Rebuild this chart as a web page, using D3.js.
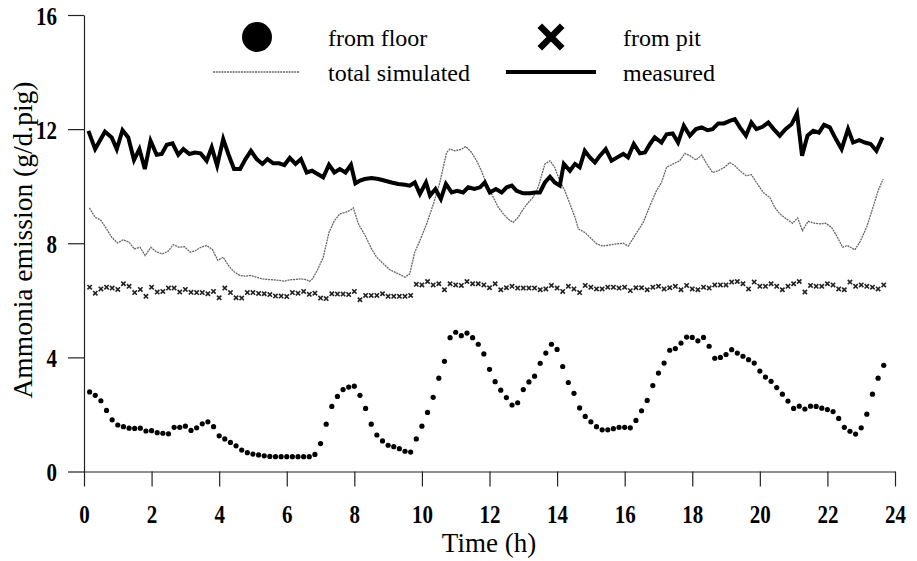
<!DOCTYPE html>
<head>
  <meta charset="utf-8">
  <title>ammonia emission</title>
  <style>
    body { margin: 0; background: #fff; }
    text { font-family: "Liberation Serif", "Times New Roman", serif; fill: #000; }
  </style>
</head>

<script src="https://d3js.org/d3.v7.min.js"></script>

<div id="my_dataviz"></div>

<script>

  // sampling step of the floor / pit series (10 minutes)
  const STEP = 1 / 6;

  // NH3 from floor (g/d.pig), one value every 10 min starting at 0:10
  const floorValues = [2.79,2.67,2.48,2.14,1.81,1.63,1.57,1.52,1.51,1.52,1.42,1.43,1.36,1.34,1.32,1.55,1.55,1.59,1.44,1.53,
    1.67,1.74,1.57,1.25,1.14,1.02,0.90,0.75,0.66,0.61,0.58,0.55,0.53,0.52,0.52,0.52,0.52,0.52,0.52,0.52,
    0.60,0.98,1.66,2.28,2.63,2.87,2.96,2.99,2.67,2.21,1.66,1.28,1.07,0.92,0.87,0.80,0.71,0.68,1.14,1.59,
    2.07,2.60,3.27,3.86,4.69,4.88,4.76,4.85,4.69,4.46,4.12,3.58,3.15,2.85,2.59,2.33,2.41,2.87,3.14,3.34,
    3.79,4.15,4.46,4.28,3.68,3.12,2.74,2.23,1.93,1.74,1.57,1.46,1.46,1.50,1.55,1.55,1.53,1.79,2.13,2.49,
    3.01,3.45,3.80,4.25,4.31,4.50,4.71,4.70,4.58,4.70,4.39,3.97,4.00,4.10,4.27,4.15,4.04,3.92,3.80,3.52,
    3.31,3.16,2.94,2.71,2.47,2.21,2.29,2.19,2.29,2.28,2.22,2.17,2.10,1.86,1.55,1.41,1.31,1.53,2.01,2.71,
    3.27,3.72];

  // NH3 from pit (g/d.pig), same time steps
  const pitValues = [6.46,6.25,6.40,6.46,6.43,6.38,6.58,6.49,6.27,6.38,6.14,6.46,6.29,6.31,6.43,6.43,6.29,6.38,6.28,6.27,
    6.27,6.23,6.31,6.09,6.43,6.27,6.09,6.08,6.27,6.27,6.24,6.23,6.20,6.15,6.15,6.13,6.27,6.25,6.31,6.21,
    6.25,6.08,6.06,6.23,6.22,6.22,6.20,6.31,6.02,6.17,6.17,6.17,6.23,6.14,6.14,6.14,6.14,6.17,6.56,6.54,
    6.66,6.54,6.58,6.37,6.58,6.54,6.52,6.66,6.58,6.58,6.54,6.44,6.58,6.37,6.44,6.49,6.43,6.43,6.43,6.43,
    6.37,6.40,6.52,6.43,6.31,6.49,6.40,6.27,6.52,6.46,6.40,6.40,6.46,6.46,6.43,6.46,6.34,6.44,6.44,6.37,
    6.46,6.49,6.40,6.44,6.49,6.37,6.52,6.40,6.37,6.46,6.43,6.54,6.54,6.54,6.64,6.66,6.58,6.40,6.64,6.49,
    6.49,6.58,6.49,6.37,6.49,6.58,6.66,6.29,6.52,6.49,6.49,6.58,6.54,6.40,6.37,6.64,6.49,6.54,6.49,6.46,
    6.40,6.54];

  // total simulated (hours / values)
  const simHours = [0.16,0.33,0.49,0.67,0.82,0.99,1.16,1.33,1.49,1.66,1.81,1.98,2.15,2.32,2.48,2.64,2.81,2.97,3.14,3.30,
    3.46,3.63,3.80,3.96,4.12,4.29,4.45,4.62,4.78,4.94,5.11,5.27,5.43,5.60,5.77,5.93,6.09,6.26,6.42,6.59,
    6.67,6.76,6.91,7.08,7.25,7.41,7.57,7.74,7.90,7.97,8.12,8.32,8.51,8.66,8.86,9.05,9.30,9.50,9.64,9.79,
    9.94,10.14,10.34,10.43,10.53,10.73,10.83,10.98,11.18,11.30,11.47,11.62,11.76,11.91,12.06,12.26,12.41,12.55,12.70,12.85,
    13.00,13.15,13.29,13.44,13.64,13.79,13.93,14.08,14.23,14.38,14.53,14.63,14.82,14.97,15.17,15.36,15.56,15.76,15.96,16.11,
    16.30,16.55,16.75,16.94,17.09,17.24,17.44,17.63,17.78,17.93,18.11,18.28,18.43,18.60,18.77,18.95,19.11,19.26,19.41,19.59,
    19.75,19.90,20.10,20.30,20.44,20.59,20.79,20.97,21.12,21.26,21.43,21.63,21.78,21.95,22.12,22.27,22.45,22.59,22.81,22.96,
    23.16,23.35,23.50,23.65];
  const simValues = [9.24,8.91,8.82,8.50,8.21,8.01,8.12,8.04,7.80,7.86,7.57,7.86,7.69,7.63,7.71,7.95,7.86,7.88,7.69,7.74,
    7.86,7.92,7.78,7.40,7.51,7.19,6.99,6.87,6.85,6.87,6.81,6.75,6.73,6.72,6.70,6.67,6.72,6.73,6.75,6.72,
    6.66,6.75,7.07,7.51,8.38,8.79,9.03,9.08,9.17,9.24,8.68,8.27,7.80,7.51,7.28,7.07,6.93,6.81,6.93,7.69,
    8.09,8.68,9.38,9.73,10.13,11.18,11.30,11.24,11.30,11.39,11.18,10.89,10.54,10.08,9.73,9.26,9.03,8.85,8.73,8.91,
    9.20,9.43,9.61,9.96,10.78,10.89,10.66,10.19,9.84,9.38,8.91,8.50,8.38,8.21,7.98,7.90,7.94,7.98,8.00,7.90,
    8.27,8.73,9.32,9.84,10.13,10.66,10.78,10.89,11.15,11.07,10.92,11.09,10.78,10.48,10.54,10.66,10.83,10.72,10.54,10.37,
    10.40,10.13,9.78,9.60,9.26,9.03,8.85,8.70,8.89,8.44,8.77,8.70,8.68,8.70,8.56,8.27,7.86,7.92,7.77,8.04,
    8.56,9.26,9.84,10.25];

  // measured (hours / values)
  const measHours = [0.13,0.33,0.62,0.82,0.97,1.14,1.31,1.48,1.64,1.80,1.97,2.15,2.30,2.45,2.62,2.79,2.94,3.12,3.28,3.45,
    3.63,3.78,3.94,4.12,4.27,4.44,4.62,4.78,4.94,5.11,5.28,5.43,5.60,5.77,5.93,6.09,6.26,6.42,6.59,6.75,
    6.91,7.08,7.25,7.41,7.57,7.74,7.90,8.03,8.17,8.31,8.51,8.71,8.91,9.10,9.30,9.50,9.64,9.79,9.94,10.12,
    10.24,10.40,10.56,10.71,10.88,11.04,11.22,11.37,11.55,11.72,11.86,12.01,12.19,12.36,12.51,12.66,12.80,13.00,13.20,13.35,
    13.49,13.64,13.79,13.93,14.08,14.20,14.38,14.53,14.67,14.82,14.97,15.12,15.27,15.44,15.61,15.78,15.96,16.10,16.27,16.45,
    16.60,16.75,16.89,17.09,17.24,17.42,17.58,17.75,17.93,18.11,18.28,18.45,18.60,18.77,18.94,19.11,19.26,19.41,19.59,19.75,
    19.90,20.08,20.25,20.41,20.59,20.76,20.94,21.10,21.25,21.41,21.58,21.75,21.90,22.07,22.25,22.42,22.61,22.76,22.94,23.11,
    23.28,23.45,23.63];
  const measValues = [11.94,11.30,11.91,11.71,11.30,11.96,11.71,10.92,11.30,10.60,11.59,11.10,11.13,11.45,11.50,11.10,11.30,11.13,11.18,11.15,
    10.89,11.36,10.72,11.65,11.13,10.60,10.60,10.95,11.24,10.95,10.78,10.95,10.80,10.80,10.74,10.99,10.78,10.95,10.48,10.54,
    10.43,10.31,10.75,10.48,10.60,10.48,10.75,10.10,10.20,10.25,10.29,10.25,10.19,10.13,10.08,10.05,10.02,10.13,9.73,10.13,
    9.67,9.90,9.55,10.08,9.78,9.84,9.78,9.96,9.90,9.96,10.13,9.78,9.90,9.78,9.96,10.02,9.84,9.75,9.75,9.78,
    9.78,10.13,10.33,10.13,10.02,10.78,10.54,10.78,10.66,11.24,11.01,10.83,11.07,11.30,10.89,11.01,11.13,11.01,11.48,11.15,
    11.18,11.48,11.71,11.53,11.82,11.85,11.53,12.12,11.77,12.00,12.06,11.96,12.00,12.20,12.20,12.29,12.35,12.06,11.77,12.23,
    12.00,12.08,12.23,12.00,11.77,12.00,12.17,12.55,11.07,11.77,11.94,11.88,12.15,12.06,11.65,11.30,12.00,11.53,11.61,11.53,
    11.48,11.24,11.71];

  const xTicks = [0, 2, 4, 6, 8, 10, 12, 14, 16, 18, 20, 22, 24];
  const yTicks = [0, 4, 8, 12, 16];

  const width = 917, height = 561;
  const serif = "Liberation Serif";

  const svg = d3.select("#my_dataviz")
    .append("svg")
      .attr("width", width)
      .attr("height", height);

  const x = d3.scaleLinear().domain([0, 24]).range([84, 895]);
  const y = d3.scaleLinear().domain([0, 16]).range([471.5, 15]);

  // tick labels are a condensed bold serif
  const squeeze = 0.84;

  // axes
  const yAxis = svg.append("g")
    .attr("transform", `translate(${x(0)},0)`)
    .call(d3.axisLeft(y).tickValues(yTicks).tickSize(16).tickSizeOuter(0));
  yAxis.selectAll("text")
    .attr("x", -27 / squeeze)
    .attr("dy", "0.36em")
    .attr("transform", `scale(${squeeze},1)`)
    .style("font-size", "25px").style("font-weight", "bold")
    .style("font-family", serif);

  const xAxis = svg.append("g")
    .attr("transform", `translate(0,${y(0)})`)
    .call(d3.axisBottom(x).tickValues(xTicks).tickSize(15).tickSizeOuter(0));
  xAxis.selectAll("text")
    .attr("y", 51.5)
    .attr("dy", 0)
    .attr("transform", `scale(${squeeze},1)`)
    .style("font-size", "25px").style("font-weight", "bold")
    .style("font-family", serif);

  svg.selectAll(".domain, .tick line").attr("stroke", "#222").attr("stroke-width", 1.2);

  // axis titles
  svg.append("text")
    .attr("x", 489).attr("y", 552)
    .attr("text-anchor", "middle")
    .style("font-family", serif)
    .style("font-size", "27px")
    .text("Time (h)");

  svg.append("text")
    .attr("transform", `translate(32,240) rotate(-90)`)
    .attr("text-anchor", "middle")
    .style("font-family", serif)
    .style("font-size", "27.5px")
    .text("Ammonia emission (g/d.pig)");

  // simulated total
  const simData = simHours.map((h, i) => ({h: h, v: simValues[i]}));
  svg.append("path")
    .datum(simData)
    .attr("fill", "none")
    .attr("stroke", "#666")
    .attr("stroke-width", 1.3)
    .attr("stroke-dasharray", "2,0.8")
    .attr("d", d3.line().x(d => x(d.h)).y(d => y(d.v)));

  // measured
  const measData = measHours.map((h, i) => ({h: h, v: measValues[i]}));
  svg.append("path")
    .datum(measData)
    .attr("fill", "none")
    .attr("stroke", "#000")
    .attr("stroke-width", 4)
    .attr("d", d3.line().x(d => x(d.h)).y(d => y(d.v)));

  // from pit : crosses
  svg.append("g")
    .selectAll("path")
    .data(pitValues)
    .join("path")
      .attr("transform", (d, i) => `translate(${x((i + 1) * STEP)},${y(d)})`)
      .attr("d", d3.symbol(d3.symbolX, 14))
      .attr("fill", "none")
      .attr("stroke", "#222")
      .attr("stroke-width", 1.6);

  // from floor : dots
  svg.append("g")
    .selectAll("circle")
    .data(floorValues)
    .join("circle")
      .attr("cx", (d, i) => x((i + 1) * STEP))
      .attr("cy", d => y(d))
      .attr("r", 2.6)
      .attr("fill", "#000");

  // legend
  const legend = svg.append("g")
    .style("font-family", serif)
    .style("font-size", "24px");
  legend.append("circle").attr("cx", 257).attr("cy", 37).attr("r", 15).attr("fill", "#000");
  legend.append("text").attr("x", 328).attr("y", 46).style("font-family", serif).text("from floor");
  legend.append("path")
    .attr("transform", "translate(551,37)")
    .attr("d", d3.symbol(d3.symbolX, 330))
    .attr("fill", "none").attr("stroke", "#000").attr("stroke-width", 6.5);
  legend.append("text").attr("x", 623).attr("y", 46).style("font-family", serif).text("from pit");

  legend.append("line").attr("x1", 213).attr("x2", 300).attr("y1", 72).attr("y2", 72)
    .attr("stroke", "#666").attr("stroke-width", 1.3).attr("stroke-dasharray", "2,0.8");
  legend.append("text").attr("x", 328).attr("y", 81).style("font-family", serif).text("total simulated");
  legend.append("line").attr("x1", 506).attr("x2", 596).attr("y1", 72).attr("y2", 72)
    .attr("stroke", "#000").attr("stroke-width", 4);
  legend.append("text").attr("x", 623).attr("y", 81).style("font-family", serif).text("measured");

</script>
